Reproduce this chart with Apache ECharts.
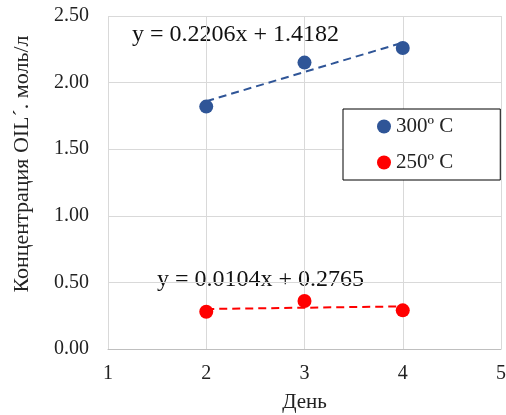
<!DOCTYPE html>
<html>
<head>
<meta charset="utf-8">
<script src="https://cdn.jsdelivr.net/npm/echarts@6/dist/echarts.min.js"></script>
<style>
  html, body { margin: 0; padding: 0; background: #fff; }
  #chart { width: 506px; height: 415px; }
</style>
</head>
<body>
<div id="chart"></div>
<script>
// days and measured concentrations
const days = [2, 3, 4];
const hot300 = [1.82, 2.15, 2.26];
const hot250 = [0.28, 0.36, 0.29];

// trend line ends (at x = 2 and x = 4)
const trendX = [2, 4];
const trend300 = [1.86, 2.30];
const trend250 = [0.30, 0.32];

const eq300 = 'y = 0.2206x + 1.4182';
const eq250 = 'y = 0.0104x + 0.2765';

const FONT = 'Liberation Serif';
const BLUE = '#2F5597';
const RED = '#FF0000';

const pairs = (xs, ys) => xs.map((x, i) => [x, ys[i]]);

const chart = echarts.init(document.getElementById('chart'));

chart.setOption({
  animation: false,
  grid: { left: 108, right: 5, top: 16, bottom: 66, outerBoundsMode: 'none' },
  xAxis: {
    type: 'value',
    min: 1,
    max: 5,
    interval: 1,
    name: 'День',
    nameLocation: 'middle',
    nameGap: 43,
    nameTextStyle: { fontFamily: FONT, fontSize: 21, color: '#222' },
    axisLine: { show: true, lineStyle: { color: '#bfbfbf', width: 1 } },
    axisTick: { show: false },
    axisLabel: { fontFamily: FONT, fontSize: 20, color: '#222', margin: 15 },
    splitLine: { show: true, lineStyle: { color: '#d9d9d9', width: 1 } },
  },
  yAxis: {
    type: 'value',
    min: 0,
    max: 2.5,
    interval: 0.5,
    axisLine: { show: false },
    axisTick: { show: false },
    axisLabel: {
      fontFamily: FONT,
      fontSize: 20,
      color: '#222',
      margin: 19,
      formatter: (v) => v.toFixed(2),
    },
    splitLine: { show: true, lineStyle: { color: '#d9d9d9', width: 1 } },
  },
  legend: {
    data: ['300º C', '250º C'],
    orient: 'vertical',
    left: 343,
    top: 109,
    padding: [7, 47, 7, 34],
    itemGap: 15,
    itemWidth: 14,
    itemHeight: 14,
    icon: 'circle',
    borderColor: '#000',
    borderWidth: 1,
    backgroundColor: '#fff',
    textStyle: { fontFamily: FONT, fontSize: 21, color: '#222' },
  },
  graphic: [
    {
      type: 'text',
      x: 22,
      y: 164,
      rotation: Math.PI / 2,
      style: {
        text: 'Концентрация OIL´. моль/л',
        fontFamily: FONT,
        fontSize: 22,
        fill: '#222',
        align: 'center',
        verticalAlign: 'middle',
      },
    },
    {
      type: 'text',
      x: 132,
      y: 35,
      style: {
        text: eq300,
        fontFamily: FONT,
        fontSize: 24,
        fill: '#111',
        verticalAlign: 'middle',
      },
    },
    {
      type: 'text',
      x: 157,
      y: 280,
      style: {
        text: eq250,
        fontFamily: FONT,
        fontSize: 24,
        fill: '#111',
        verticalAlign: 'middle',
      },
    },
  ],
  series: [
    {
      name: 'trend300',
      type: 'line',
      data: pairs(trendX, trend300),
      showSymbol: false,
      lineStyle: { color: BLUE, width: 2, type: [8, 5] },
      silent: true,
      z: 1,
    },
    {
      name: 'trend250',
      type: 'line',
      data: pairs(trendX, trend250),
      showSymbol: false,
      lineStyle: { color: RED, width: 2, type: [8, 5] },
      silent: true,
      z: 1,
    },
    {
      name: '300º C',
      type: 'scatter',
      data: pairs(days, hot300),
      symbolSize: 14,
      itemStyle: { color: BLUE, opacity: 1 },
      z: 3,
    },
    {
      name: '250º C',
      type: 'scatter',
      data: pairs(days, hot250),
      symbolSize: 14,
      itemStyle: { color: RED, opacity: 1 },
      z: 3,
    },
  ],
});
</script>
</body>
</html>
